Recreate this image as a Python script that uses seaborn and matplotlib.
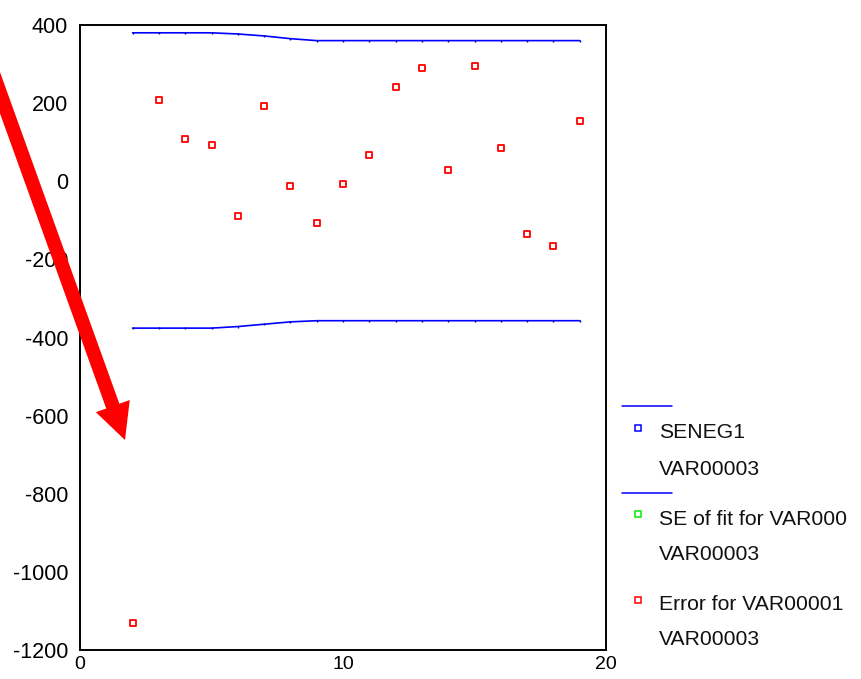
import matplotlib
matplotlib.use("Agg")
import matplotlib.pyplot as plt
import seaborn as sns
import pandas as pd
from matplotlib.patches import FancyArrow

# Case sequence numbers and residuals
case_x = list(range(2, 20))
error_vals = [-1130, 207, 107, 92, -88, 192, -12, -107, -8, 68,
              241, 291, 30, 295, 84, -134, -166, 153]

# Standard error band of the fit
se_upper = [380, 380, 380, 380, 377, 372, 365, 360, 360, 360,
            360, 360, 360, 360, 360, 360, 360, 360]
se_lower = [-376, -376, -376, -376, -372, -366, -360, -357, -357, -357,
            -357, -357, -357, -357, -357, -357, -357, -357]

y_ticks = [400, 200, 0, -200, -400, -600, -800, -1000, -1200]
x_ticks = [0, 10, 20]

legend_labels = ["SENEG1", "VAR00003", "SE of fit for VAR000", "VAR00003",
                 "Error for VAR00001", "VAR00003"]

sns.set_style("white")
plt.rcParams["font.family"] = ["Liberation Sans", "DejaVu Sans"]
plt.rcParams["axes.unicode_minus"] = False

W, H = 861, 679
fig = plt.figure(figsize=(W / 100, H / 100), dpi=100)
ax = fig.add_axes([80 / W, 1 - 650 / H, (606 - 80) / W, (650 - 25) / H])

band = pd.DataFrame({"x": case_x, "upper": se_upper, "lower": se_lower})
err_df = pd.DataFrame({"x": case_x, "err": error_vals})

for col in ["upper", "lower"]:
    sns.lineplot(data=band, x="x", y=col, ax=ax, color="#0000ff", lw=1.2,
                 marker="|", markersize=1.8, markeredgewidth=1.0,
                 markeredgecolor="#0000b0")

sns.scatterplot(data=err_df, x="x", y="err", ax=ax, marker="s", s=22,
                facecolor="white", edgecolor="#ff0000", linewidth=1.3, zorder=3)

ax.set_xlim(0, 20)
ax.set_ylim(-1200, 400)
ax.set_xticks(x_ticks)
ax.set_yticks(y_ticks)
ax.set_xticklabels([str(v) for v in x_ticks])
ax.set_yticklabels([str(v) for v in y_ticks])
ax.set_xlabel("")
ax.set_ylabel("")
for sp in ax.spines.values():
    sp.set_visible(True)
    sp.set_color("black")
    sp.set_linewidth(1.4)
ax.tick_params(axis="both", which="major", direction="out", length=2.5,
               width=2.2, color="black", labelcolor="black")
ax.tick_params(axis="y", pad=6, labelsize=15.5)
ax.tick_params(axis="x", pad=2, labelsize=14)

# Overlay in pixel coordinates for the legend block and the arrow
ov = fig.add_axes([0, 0, 1, 1], facecolor="none")
ov.set_xlim(0, W)
ov.set_ylim(H, 0)
ov.axis("off")

ov.plot([622, 672], [405.5, 405.5], color="#0000ff", lw=1.1)
ov.plot([622, 672], [492.5, 492.5], color="#0000ff", lw=1.1)
ov.plot([637.5], [427.7], marker="s", markersize=4.2, mfc="white",
        mec="#0000ff", mew=1.1)
ov.plot([637.5], [514.3], marker="s", markersize=4.2, mfc="white",
        mec="#00ee00", mew=1.1)
ov.plot([637.5], [600], marker="s", markersize=4.2, mfc="white",
        mec="#ff0000", mew=1.1)

text_y = [438.5, 475, 525, 560, 610, 645]
for lbl, ty in zip(legend_labels, text_y):
    ov.text(659, ty, lbl, fontsize=15.2, va="baseline", ha="left", color="#111111")

# Red pointer arrow
tip_x, tip_y = 125, 440
start_x, start_y = -19, 40
ov.add_patch(FancyArrow(start_x, start_y, tip_x - start_x, tip_y - start_y,
                        width=14, head_width=36, head_length=36,
                        length_includes_head=True, color="#ff0000", lw=0,
                        clip_on=False))

fig.savefig("out.png", dpi=100)
